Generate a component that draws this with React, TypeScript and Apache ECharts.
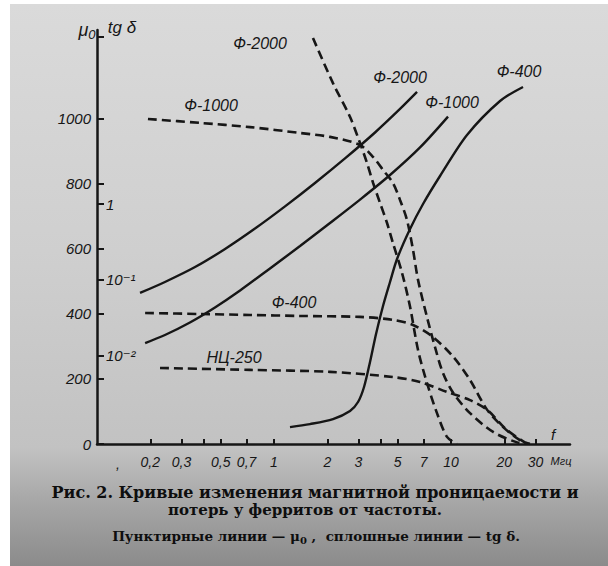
import React, { useEffect, useRef } from 'react';
import * as echarts from 'echarts';

// ---- axis ticks / labels ----
const freqTicks = [0.2, 0.3, 0.4, 0.5, 0.7, 1, 2, 3, 4, 5, 7, 10, 20, 30];
const freqLabels = [0.2, 0.3, 0.5, 0.7, 1, 2, 3, 5, 7, 10, 20, 30];
const muTicks = [0, 200, 400, 600, 800, 1000];
const muTopTick = 1252;
const tgTicks = [0.01, 0.1, 1];

// ---- μ0 (dashed) curves: frequency (MHz) / permeability ----
const f2000MuFreq = [1.66, 2.15, 2.69, 3.06, 3.35, 3.63, 3.97, 4.35, 4.7, 5.29, 5.87, 6.51, 7.31, 8.33, 9.49, 10.8];
const f2000MuVal = [1249, 1111, 1006, 926, 865, 803, 742, 680, 618, 526, 422, 289, 188, 95, 22, 0];

const f1000MuFreq = [0.194, 0.382, 0.732, 1.4, 2.07, 3.06, 3.63, 4.13, 4.7, 5.15, 5.64, 6.1, 6.51, 7.31, 8.12, 9.01, 10.3, 12.8, 17.3, 23.6, 27.9];
const f1000MuVal = [1000, 988, 975, 957, 945, 920, 883, 843, 803, 751, 689, 597, 505, 391, 298, 218, 157, 95, 37, 5, 0];

const f400MuFreq = [0.187, 0.382, 0.732, 1.4, 3.06, 4.7, 6.1, 7.91, 10.3, 12.8, 16.0, 19.7, 24.5, 27.9];
const f400MuVal = [403, 400, 397, 394, 391, 382, 366, 329, 268, 197, 105, 52, 12, 0];

const nc250MuFreq = [0.227, 0.732, 2.07, 4.7, 6.68, 9.49, 12.8, 16.0, 20.7, 26.9];
const nc250MuVal = [234, 228, 222, 206, 191, 160, 135, 105, 43, 0];

// ---- tg δ (solid) curves: frequency (MHz) / loss tangent ----
const f2000TgFreq = [0.175, 0.242, 0.358, 0.529, 0.781, 1.154, 1.704, 2.518, 3.721, 5.15, 6.427];
const f2000TgVal = [0.0675, 0.0941, 0.148, 0.256, 0.475, 0.93, 1.89, 3.98, 8.73, 17.8, 29.8];

const f1000TgFreq = [0.187, 0.242, 0.335, 0.464, 0.643, 0.949, 1.403, 2.072, 3.062, 4.522, 6.683, 9.618];
const f1000TgVal = [0.0148, 0.0189, 0.0276, 0.0435, 0.0728, 0.142, 0.28, 0.562, 1.143, 2.407, 5.555, 14.13];

const f400TgFreq = [1.231, 1.597, 2.154, 2.688, 2.983, 3.225, 3.486, 3.77, 4.128, 4.522, 4.954, 5.866, 6.948, 8.667, 12.31, 18.92, 25.51];
const f400TgVal = [0.00116, 0.00127, 0.00148, 0.00189, 0.00248, 0.00391, 0.00834, 0.0195, 0.0455, 0.0941, 0.189, 0.469, 1.0, 2.336, 8.09, 22.66, 34.63];

const INK = '#161616';
const LABEL_FONT = "'Liberation Sans', 'DejaVu Sans', sans-serif";
const CAPTION_FONT = "'DejaVu Serif', 'Liberation Serif', serif";

const zip = (f: number[], v: number[]) => f.map((x, i) => [x, v[i]]);

const fmtNum = (v: number) => String(+Number(v).toPrecision(3)).replace('.', ',');

export default function App() {
  const ref = useRef<HTMLDivElement>(null);

  useEffect(() => {
    if (!ref.current) return;
    const chart = echarts.init(ref.current, undefined, { renderer: 'svg' });

    const dashed = (name: string, f: number[], v: number[]) => ({
      name,
      type: 'line',
      xAxisIndex: 0,
      yAxisIndex: 0,
      data: zip(f, v),
      showSymbol: false,
      smooth: 0.3,
      lineStyle: { color: INK, width: 2.6, type: [9, 5] },
      z: 3,
    });
    const solid = (name: string, f: number[], v: number[]) => ({
      name,
      type: 'line',
      xAxisIndex: 0,
      yAxisIndex: 1,
      data: zip(f, v),
      showSymbol: false,
      smooth: 0.3,
      lineStyle: { color: INK, width: 2.4, type: 'solid' },
      z: 3,
    });

    const labelText = (text: string, x: number, y: number, size = 16) => ({
      type: 'text',
      x,
      y,
      style: {
        text,
        fill: INK,
        font: `italic ${size}px ${LABEL_FONT}`,
        align: 'center',
        verticalAlign: 'middle',
      },
      z: 5,
    });

    const captionText = (text: string, x: number, y: number, size: number) => ({
      type: 'text',
      x,
      y,
      style: {
        text,
        fill: '#0e0e0e',
        font: `bold ${size}px ${CAPTION_FONT}`,
        align: 'center',
        verticalAlign: 'middle',
      },
      z: 5,
    });

    chart.setOption({
      animation: false,
      backgroundColor: '#ffffff',
      grid: { left: 97, right: 38, top: 30, bottom: 122, containLabel: false },
      xAxis: {
        type: 'log',
        logBase: 10,
        min: 0.1,
        max: 47,
        axisLine: { show: true, lineStyle: { color: INK, width: 2.5 } },
        axisTick: { show: true, inside: true, length: 5, customValues: freqTicks, lineStyle: { color: INK, width: 2 } },
        axisLabel: {
          customValues: freqLabels,
          formatter: (v: number) => fmtNum(v),
          color: INK,
          fontSize: 14,
          fontStyle: 'italic',
          fontFamily: LABEL_FONT,
          margin: 11,
        },
        splitLine: { show: false },
        minorTick: { show: false },
      },
      yAxis: [
        {
          type: 'value',
          min: 0,
          max: 1273.8,
          position: 'left',
          axisLine: { show: true, lineStyle: { color: INK, width: 2.5 } },
          axisTick: { show: true, inside: true, length: 7, customValues: [...muTicks, muTopTick], lineStyle: { color: INK, width: 2 } },
          axisLabel: {
            customValues: muTicks,
            formatter: (v: number) => String(Math.round(v)),
            color: INK,
            fontSize: 15,
            fontStyle: 'italic',
            fontFamily: LABEL_FONT,
            margin: 6,
          },
          splitLine: { show: false },
        },
        {
          type: 'log',
          logBase: 10,
          min: 0.000695,
          max: 194.8,
          position: 'left',
          offset: 0,
          axisLine: { show: false },
          axisTick: { show: true, inside: true, length: 7, customValues: tgTicks, lineStyle: { color: INK, width: 2 } },
          axisLabel: {
            inside: true,
            customValues: tgTicks,
            formatter: (v: number) => (v > 0.5 ? '1' : v > 0.05 ? '10⁻¹' : '10⁻²'),
            color: INK,
            fontSize: 15,
            fontStyle: 'italic',
            fontFamily: LABEL_FONT,
            margin: 9,
          },
          splitLine: { show: false },
          minorTick: { show: false },
        },
      ],
      graphic: [
        {
          type: 'rect',
          shape: { x: 10, y: 4, width: 598, height: 562 },
          style: {
            fill: new echarts.graphic.LinearGradient(0, 0, 0, 1, [
              { offset: 0, color: '#dadada' },
              { offset: 0.44, color: '#cfcfcf' },
              { offset: 0.79, color: '#c2c2c2' },
              { offset: 0.88, color: '#a8a8a8' },
              { offset: 1, color: '#8b8b8b' },
            ]),
          },
          z: -10,
          silent: true,
        },
        labelText('Ф-2000', 260, 43),
        labelText('Ф-1000', 211, 105),
        labelText('Ф-2000', 400, 77),
        labelText('Ф-1000', 452, 102),
        labelText('Ф-400', 519, 71),
        labelText('Ф-400', 294, 302),
        labelText('НЦ-250', 234, 357),
        {
          type: 'text',
          x: 87,
          y: 30,
          style: {
            text: '{m|μ}{s|0}',
            fill: INK,
            align: 'center',
            verticalAlign: 'middle',
            rich: {
              m: { fontSize: 18, fontStyle: 'italic', fontFamily: LABEL_FONT, fill: INK },
              s: { fontSize: 13, fontStyle: 'italic', fontFamily: LABEL_FONT, fill: INK, padding: [8, 0, 0, 0] },
            },
          },
          z: 5,
        },
        labelText('tg δ', 122, 27, 17),
        labelText(',', 118, 464, 14),
        labelText('f', 553, 434, 15),
        labelText('Мгц', 561, 461, 11),
        captionText('Рис. 2. Кривые изменения магнитной проницаемости и', 315, 492, 16),
        captionText('потерь у ферритов от частоты.', 305, 510, 15),
        {
          type: 'text',
          x: 316,
          y: 536,
          style: {
            text: '{a|Пунктирные линии — μ}{s|0}{a| ,  сплошные линии — tg δ.}',
            fill: '#0e0e0e',
            align: 'center',
            verticalAlign: 'middle',
            rich: {
              a: { fontSize: 13.5, fontWeight: 'bold', fontFamily: CAPTION_FONT, fill: '#0e0e0e' },
              s: { fontSize: 10, fontWeight: 'bold', fontFamily: CAPTION_FONT, fill: '#0e0e0e', padding: [8, 0, 0, 0] },
            },
          },
          z: 5,
        },
      ],
      series: [
        dashed('Ф-2000 μ0', f2000MuFreq, f2000MuVal),
        dashed('Ф-1000 μ0', f1000MuFreq, f1000MuVal),
        dashed('Ф-400 μ0', f400MuFreq, f400MuVal),
        dashed('НЦ-250 μ0', nc250MuFreq, nc250MuVal),
        solid('Ф-2000 tgδ', f2000TgFreq, f2000TgVal),
        solid('Ф-1000 tgδ', f1000TgFreq, f1000TgVal),
        solid('Ф-400 tgδ', f400TgFreq, f400TgVal),
      ],
    });

    return () => chart.dispose();
  }, []);

  return (
    <div
      ref={ref}
      style={{ position: 'fixed', left: 0, top: 0, width: 608, height: 566 }}
    />
  );
}
